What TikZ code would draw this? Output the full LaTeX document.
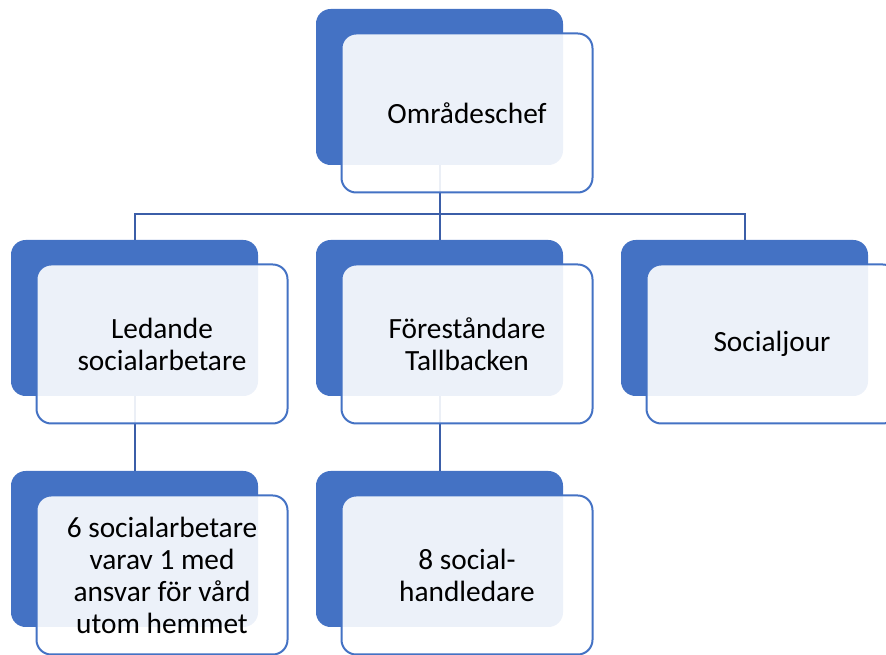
\documentclass[tikz,border=0pt]{standalone}
\usepackage{fontspec}
\setmainfont{Carlito}
\usetikzlibrary{positioning}
\definecolor{unitblue}{HTML}{4472C4}
\definecolor{linkblue}{RGB}{59,94,168}

\begin{document}
\begin{tikzpicture}[
      x=0.75pt, y=-0.75pt,
      back/.style={fill=unitblue, rounded corners=11pt,
                   minimum width=185.25pt, minimum height=117pt,
                   inner sep=0pt, outer sep=0pt},
      front/.style={draw=unitblue, line width=1.5pt, fill=white,
                    fill opacity=0.9, text opacity=1, rounded corners=11pt,
                    minimum width=188.25pt, minimum height=119.25pt,
                    inner sep=0pt, align=center,
                    font=\fontsize{22}{24}\selectfont},
      link/.style={draw=linkblue, line width=1.5pt}
    ]
    \useasboundingbox (0,0) rectangle (886,655);

    % Back plates
    \node[back] (chiefbg) at (439.5,87) {};
    \node[back, below=56.25pt of chiefbg] (tallbg) {};
    \node[back, left=43.5pt of tallbg] (ledbg) {};
    \node[back, right=43.5pt of tallbg] (jourbg) {};
    \node[back, below=56.25pt of ledbg] (sixbg) {};
    \node[back, below=56.25pt of tallbg] (eightbg) {};

    % Connections
    \coordinate (bar) at (439.5,214);
    \draw[link] (chiefbg.south) -- (chiefbg.south |- bar);
    \draw[link] (ledbg.north) |- (jourbg.north |- bar) -- (jourbg.north);
    \draw[link] (tallbg.north) -- (tallbg.north |- bar);
    \draw[link] (ledbg.south) -- (sixbg.north);
    \draw[link] (tallbg.south) -- (eightbg.north);

    % Text boxes
    \node[front] (chief) at ([shift={(27.5,26)}]chiefbg.center) {Områdeschef};
    \node[front] (led) at ([shift={(27.5,26)}]ledbg.center) {Ledande\\socialarbetare};
    \node[front] (tall) at ([shift={(27.5,26)}]tallbg.center) {Föreståndare\\Tallbacken};
    \node[front] (jour) at ([shift={(27.5,26)}]jourbg.center) {Socialjour};
    \node[front] (six) at ([shift={(27.5,26)}]sixbg.center) {6 socialarbetare\\varav 1 med\\ansvar för vård\\utom hemmet};
    \node[front] (eight) at ([shift={(27.5,26)}]eightbg.center) {8 social-\\handledare};

\end{tikzpicture}
\end{document}
